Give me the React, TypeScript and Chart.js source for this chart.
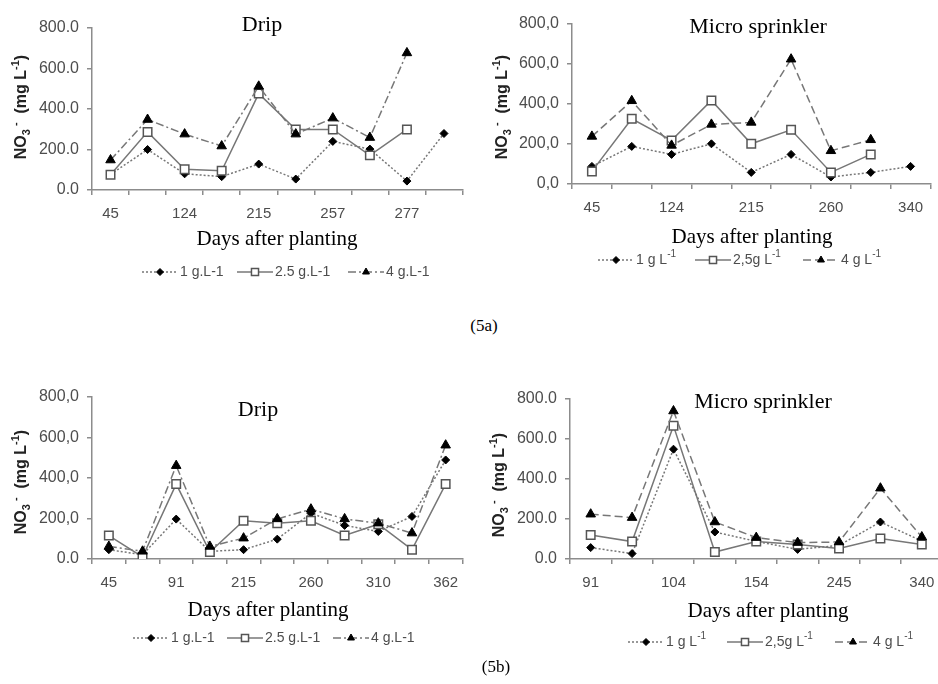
import React, { useEffect, useRef } from 'react';
import { Chart, registerables } from 'chart.js';

Chart.register(...registerables);

// ================= DATA =================
const xAxisTitle = 'Days after planting';
const panelTitles = ['Drip', 'Micro sprinkler', 'Drip', 'Micro sprinkler'];
const figureLabels = ['(5a)', '(5b)'];

// Legend labels: [text, mode] (0 normal, -1 superscript)
const legendDot: [string, number][][] = [[['1 g.L-1', 0]], [['2.5 g.L-1', 0]], [['4 g.L-1', 0]]];
const legendSup: [string, number][][] = [
  [['1 g L', 0], ['-1', -1]],
  [['2,5g L', 0], ['-1', -1]],
  [['4 g L', 0], ['-1', -1]],
];
// y title: NO3- (mg L-1)  (1 = subscript, -1 = superscript)
const yTitleSegs: [string, number][] = [['NO', 0], ['3', 1], [' -', -1], ['  (mg L', 0], ['-1', -1], [')', 0]];

// (5a) Drip
const days5aDrip = ['45', '', '124', '', '215', '', '257', '', '277', ''];
const n1_5aDrip = [77, 200, 80, 66, 128, 54, 240, 202, 44, 279];
const n25_5aDrip = [75, 287, 102, 95, 476, 299, 299, 171, 299, null];
const n4_5aDrip = [148, 348, 276, 217, 512, 276, 355, 259, 677, null];
const yTicks5aDrip = ['0.0', '200.0', '400.0', '600.0', '800.0'];

// (5a) Micro sprinkler
const days5aMicro = ['45', '', '124', '', '215', '', '260', '', '340'];
const n1_5aMicro = [88, 188, 148, 201, 58, 148, 35, 58, 88];
const n25_5aMicro = [63, 326, 218, 418, 201, 271, 58, 148, null];
const n4_5aMicro = [238, 416, 193, 298, 308, 624, 166, 221, null];
const yTicks5aMicro = ['0,0', '200,0', '400,0', '600,0', '800,0'];

// (5b) Drip
const days5bDrip = ['45', '', '91', '', '215', '', '260', '', '310', '', '362'];
const n1_5bDrip = [46, 21, 197, 38, 46, 98, 226, 166, 136, 210, 489];
const n25_5bDrip = [116, 10, 370, 34, 189, 177, 189, 116, 172, 46, 370];
const n4_5bDrip = [62, 38, 461, 62, 103, 198, 246, 198, 177, 128, 562];
const yTicks5bDrip = ['0.0', '200,0', '400,0', '600,0', '800,0'];

// (5b) Micro sprinkler
const days5bMicro = ['91', '', '104', '', '154', '', '245', '', '340'];
const n1_5bMicro = [57, 27, 549, 135, 88, 48, 68, 185, 90];
const n25_5bMicro = [120, 87, 666, 35, 88, 73, 52, 102, 73];
const n4_5bMicro = [224, 207, 740, 185, 107, 82, 85, 354, 110];
const yTicks5bMicro = ['0.0', '200.0', '400.0', '600.0', '800.0'];

// ================= STYLE =================
const SANS = '"Liberation Sans", Arial, sans-serif';
const SERIF = '"Liberation Serif", "Times New Roman", serif';
const AXIS = '#8c8c8c';
const TICKTXT = '#4d4d4d';
const LINE = '#777777';

type Seg = [string, number];

function drawRich(ctx: CanvasRenderingContext2D, segs: Seg[], x: number, y: number, size: number, weight: string, color: string, align: 'left' | 'center') {
  const fontFor = (m: number) => `${weight} ${m === 0 ? size : Math.round(size * 0.68)}px ${SANS}`;
  let total = 0;
  const widths = segs.map(([t, m]) => {
    ctx.font = fontFor(m);
    const w = ctx.measureText(t).width;
    total += w;
    return w;
  });
  let cx = align === 'center' ? x - total / 2 : x;
  ctx.fillStyle = color;
  ctx.textAlign = 'left';
  ctx.textBaseline = 'middle';
  segs.forEach(([t, m], i) => {
    ctx.font = fontFor(m);
    const dy = m === 1 ? size * 0.3 : m === -1 ? -size * 0.38 : 0;
    ctx.fillText(t, cx, y + dy);
    cx += widths[i];
  });
}

function drawMarker(ctx: CanvasRenderingContext2D, style: string, x: number, y: number, r: number, fill: string, stroke: string, lw: number) {
  ctx.beginPath();
  if (style === 'rectRot') {
    ctx.moveTo(x, y - r);
    ctx.lineTo(x + r, y);
    ctx.lineTo(x, y + r);
    ctx.lineTo(x - r, y);
    ctx.closePath();
  } else if (style === 'rect') {
    const s = r * Math.SQRT1_2;
    ctx.rect(x - s, y - s, 2 * s, 2 * s);
  } else {
    for (let k = 0; k < 3; k++) {
      const a = (k * 2 * Math.PI) / 3;
      const px = x + Math.sin(a) * r;
      const py = y - Math.cos(a) * r;
      if (k === 0) ctx.moveTo(px, py);
      else ctx.lineTo(px, py);
    }
    ctx.closePath();
  }
  ctx.fillStyle = fill;
  ctx.fill();
  ctx.lineWidth = lw;
  ctx.strokeStyle = stroke;
  ctx.stroke();
}

interface PanelCfg {
  x: number; y: number; w: number; h: number;
  area: { left: number; top: number; right: number; bottom: number };
  labels: string[];
  values: (number | null)[][];
  yTicks: string[];
  title: string; titleX: number; titleY: number;
  xTitleX: number; xTitleY: number;
  yTitleX: number; yTitleY: number;
  legend: Seg[][]; legendY: number; legendX: number[];
  dash4: number[];
}

const MARKERS = [
  { style: 'rectRot', r: 4, fill: '#000', stroke: '#000', lw: 1, lr: 3.5 },
  { style: 'rect', r: 6, fill: '#fff', stroke: '#555', lw: 1.5, lr: 5 },
  { style: 'triangle', r: 5.5, fill: '#000', stroke: '#000', lw: 1, lr: 4 },
];

function Panel({ cfg }: { cfg: PanelCfg }) {
  const ref = useRef<HTMLCanvasElement>(null);
  useEffect(() => {
    if (!ref.current) return;
    const dashes = [[2, 2], [], cfg.dash4];
    const datasets = cfg.values.map((vals, i) => ({
      label: cfg.legend[i].map((s) => s[0]).join(''),
      data: vals,
      borderColor: LINE,
      borderWidth: 1.5,
      borderDash: dashes[i],
      pointStyle: MARKERS[i].style as any,
      pointRadius: MARKERS[i].r,
      pointBackgroundColor: MARKERS[i].fill,
      pointBorderColor: MARKERS[i].stroke,
      pointBorderWidth: MARKERS[i].lw,
      tension: 0,
      fill: false,
      order: 3 - i,
    }));
    const deco = {
      id: 'deco',
      afterDraw(chart: any) {
        const ctx: CanvasRenderingContext2D = chart.ctx;
        ctx.save();
        ctx.fillStyle = '#000';
        ctx.textAlign = 'center';
        ctx.textBaseline = 'middle';
        ctx.font = `22px ${SERIF}`;
        ctx.fillText(cfg.title, cfg.titleX, cfg.titleY);
        ctx.font = `21px ${SERIF}`;
        ctx.fillText(xAxisTitle, cfg.xTitleX, cfg.xTitleY);
        ctx.save();
        ctx.translate(cfg.yTitleX, cfg.yTitleY);
        ctx.rotate(-Math.PI / 2);
        drawRich(ctx, yTitleSegs, 0, 0, 16, 'bold', '#222', 'center');
        ctx.restore();
        // legend
        const len = 36;
        chart.data.datasets.forEach((ds: any, i: number) => {
          const sx = cfg.legendX[i];
          const y = cfg.legendY;
          ctx.save();
          ctx.strokeStyle = ds.borderColor;
          ctx.lineWidth = 1.5;
          ctx.setLineDash(ds.borderDash || []);
          ctx.beginPath();
          ctx.moveTo(sx, y);
          ctx.lineTo(sx + len, y);
          ctx.stroke();
          ctx.restore();
          const m = MARKERS[i];
          drawMarker(ctx, m.style, sx + len / 2, y, m.lr, m.fill, m.stroke, m.lw);
          drawRich(ctx, cfg.legend[i], sx + len + 2, y, 14, 'normal', TICKTXT, 'left');
        });
        ctx.restore();
      },
    };
    const a = cfg.area;
    const chart = new Chart(ref.current, {
      type: 'line',
      data: { labels: cfg.labels, datasets: datasets as any },
      options: {
        animation: false,
        responsive: false,
        maintainAspectRatio: false,
        layout: { padding: { left: 0, top: a.top, right: cfg.w - a.right, bottom: 0 } },
        plugins: { legend: { display: false }, tooltip: { enabled: false }, title: { display: false } },
        scales: {
          x: {
            type: 'category',
            offset: true,
            grid: { display: true, drawOnChartArea: false, drawTicks: true, tickLength: 5, color: AXIS, lineWidth: 1.5, offset: true },
            border: { display: true, color: AXIS, width: 1.5 },
            ticks: { autoSkip: false, maxRotation: 0, minRotation: 0, color: TICKTXT, font: { family: SANS, size: 15 }, padding: 10 },
            afterFit: (s: any) => { s.height = cfg.h - a.bottom; },
          },
          y: {
            min: 0,
            max: 800,
            grid: { display: true, drawOnChartArea: false, drawTicks: true, tickLength: 5, color: AXIS, lineWidth: 1.5 },
            border: { display: true, color: AXIS, width: 1.5 },
            ticks: {
              stepSize: 200,
              color: TICKTXT,
              font: { family: SANS, size: 16 },
              padding: 8,
              callback: (_v: any, i: number) => cfg.yTicks[i],
            },
            afterFit: (s: any) => { s.width = a.left; },
          },
        },
      },
      plugins: [deco],
    });
    return () => chart.destroy();
  }, []);
  return (
    <canvas
      ref={ref}
      width={cfg.w}
      height={cfg.h}
      style={{ position: 'absolute', left: cfg.x, top: cfg.y, width: cfg.w, height: cfg.h }}
    />
  );
}

const panels: PanelCfg[] = [
  {
    x: 0, y: 0, w: 470, h: 300,
    area: { left: 92, top: 28, right: 466, bottom: 190 },
    labels: days5aDrip, values: [n1_5aDrip, n25_5aDrip, n4_5aDrip], yTicks: yTicks5aDrip,
    title: panelTitles[0], titleX: 262, titleY: 25,
    xTitleX: 277, xTitleY: 239, yTitleX: 22, yTitleY: 107,
    legend: legendDot, legendY: 272, legendX: [142, 237, 348],
    dash4: [8, 3, 2, 3],
  },
  {
    x: 470, y: 0, w: 468, h: 300,
    area: { left: 102, top: 24, right: 467, bottom: 184 },
    labels: days5aMicro, values: [n1_5aMicro, n25_5aMicro, n4_5aMicro], yTicks: yTicks5aMicro,
    title: panelTitles[1], titleX: 288, titleY: 27,
    xTitleX: 282, xTitleY: 237, yTitleX: 33, yTitleY: 107,
    legend: legendSup, legendY: 260, legendX: [128, 225, 333],
    dash4: [8, 4],
  },
  {
    x: 0, y: 370, w: 470, h: 314,
    area: { left: 92, top: 27, right: 464, bottom: 189 },
    labels: days5bDrip, values: [n1_5bDrip, n25_5bDrip, n4_5bDrip], yTicks: yTicks5bDrip,
    title: panelTitles[2], titleX: 258, titleY: 40,
    xTitleX: 268, xTitleY: 240, yTitleX: 22, yTitleY: 112,
    legend: legendDot, legendY: 268, legendX: [133, 227, 333],
    dash4: [8, 3, 2, 3],
  },
  {
    x: 470, y: 370, w: 480, h: 314,
    area: { left: 100, top: 29, right: 474, bottom: 189 },
    labels: days5bMicro, values: [n1_5bMicro, n25_5bMicro, n4_5bMicro], yTicks: yTicks5bMicro,
    title: panelTitles[3], titleX: 293, titleY: 32,
    xTitleX: 298, xTitleY: 241, yTitleX: 30, yTitleY: 115,
    legend: legendSup, legendY: 272, legendX: [158, 257, 365],
    dash4: [8, 4],
  },
];

export default function App() {
  return (
    <div style={{ position: 'absolute', left: 0, top: 0, width: 938, height: 684, overflow: 'hidden', background: '#fff' }}>
      {panels.map((p, i) => (
        <Panel key={i} cfg={p} />
      ))}
      <div style={{ position: 'absolute', left: 0, top: 316, width: 968, textAlign: 'center', font: `17px ${SERIF}`, color: '#000' }}>
        {figureLabels[0]}
      </div>
      <div style={{ position: 'absolute', left: 0, top: 657, width: 992, textAlign: 'center', font: `17px ${SERIF}`, color: '#000' }}>
        {figureLabels[1]}
      </div>
    </div>
  );
}
